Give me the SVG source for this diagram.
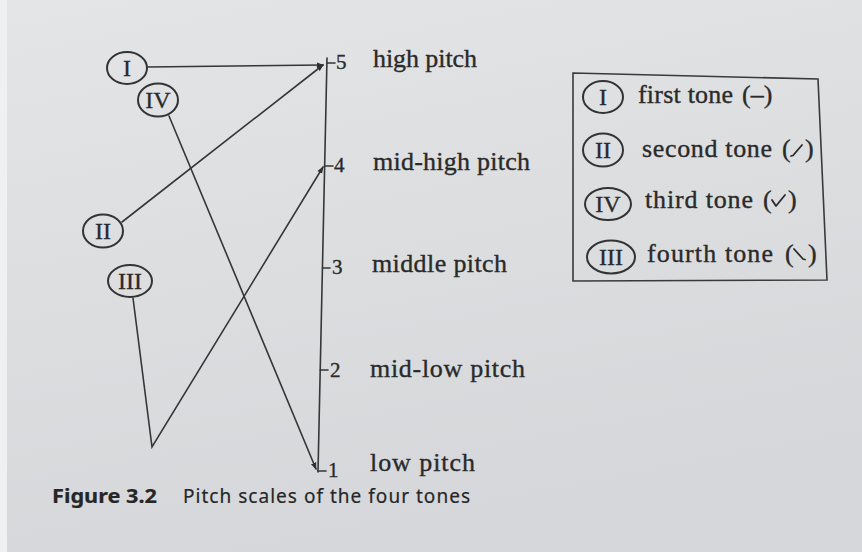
<svg xmlns="http://www.w3.org/2000/svg" width="862" height="552" viewBox="0 0 862 552">
  <defs>
    <linearGradient id="paper" x1="0" y1="0" x2="0.3" y2="1">
      <stop offset="0" stop-color="#e3e5e6"/>
      <stop offset="0.5" stop-color="#dcdee0"/>
      <stop offset="1" stop-color="#d5d7da"/>
    </linearGradient>
    <marker id="arrow" viewBox="0 0 10 10" refX="9" refY="5" markerWidth="7" markerHeight="7" markerUnits="userSpaceOnUse" orient="auto">
      <path d="M0,1 L10,5 L0,9 Z" fill="#2f2f2f"/>
    </marker>
    <style>
      .ln { fill: none; stroke: #363636; stroke-width: 1.6; stroke-linecap: round; stroke-linejoin: miter; }
      .node { fill: none; stroke: #333; stroke-width: 2; }
      .mark { fill: none; stroke: #2a2a2a; stroke-width: 1.8; stroke-linecap: round; stroke-linejoin: round; }
      text { stroke: #2a2a2a; stroke-width: 0.35; }
      .rom { font-family: "Liberation Serif", "Times New Roman", serif; font-size: 24px; fill: #2a2a2a; text-anchor: middle; stroke-width: 0.3; }
      .num { font-family: "Liberation Serif", "Times New Roman", serif; font-size: 21px; fill: #2a2a2a; }
      .lbl { font-family: "Liberation Serif", "Times New Roman", serif; font-size: 26px; fill: #2a2a2a; }
      .leg { font-family: "Liberation Serif", "Times New Roman", serif; font-size: 26px; fill: #2a2a2a; }
      .cap { font-family: "Noto Sans", "Open Sans", sans-serif; font-size: 19px; fill: #262626; stroke-width: 0.2; }
    </style>
  </defs>

  <rect x="0" y="0" width="862" height="552" fill="url(#paper)"/>
  <rect x="0" y="0" width="7" height="552" fill="#eef0f1"/>

  <!-- pitch scale -->
  <g id="scale">
    <path class="ln" d="M327,58 L318,472"/>
    <g id="level-5">
      <path class="ln" d="M326.8,63 L335,63"/>
      <text class="num" x="336" y="69">5</text>
      <text class="lbl" x="373" y="67" textLength="104" lengthAdjust="spacing">high pitch</text>
    </g>
    <g id="level-4">
      <path class="ln" d="M324.6,166 L333,166"/>
      <text class="num" x="334" y="172">4</text>
      <text class="lbl" x="373" y="170" textLength="157" lengthAdjust="spacing">mid-high pitch</text>
    </g>
    <g id="level-3">
      <path class="ln" d="M322.4,268 L330,268"/>
      <text class="num" x="332" y="274">3</text>
      <text class="lbl" x="372" y="272" textLength="135" lengthAdjust="spacing">middle pitch</text>
    </g>
    <g id="level-2">
      <path class="ln" d="M320.2,370 L328,370"/>
      <text class="num" x="330" y="377">2</text>
      <text class="lbl" x="370" y="377" textLength="155" lengthAdjust="spacing">mid-low pitch</text>
    </g>
    <g id="level-1">
      <path class="ln" d="M318,471 L326,471"/>
      <text class="num" x="328" y="477">1</text>
      <text class="lbl" x="370" y="471" textLength="105" lengthAdjust="spacing">low pitch</text>
    </g>
  </g>

  <!-- tone nodes -->
  <g id="node-I">
    <ellipse class="node" cx="127" cy="68" rx="20" ry="16"/>
    <text class="rom" x="127" y="76">I</text>
  </g>
  <g id="node-IV">
    <ellipse class="node" cx="158" cy="100" rx="20" ry="16.5"/>
    <text class="rom" x="158" y="108">IV</text>
  </g>
  <g id="node-II">
    <ellipse class="node" cx="103" cy="231" rx="20" ry="16.5"/>
    <text class="rom" x="103" y="239">II</text>
  </g>
  <g id="node-III">
    <ellipse class="node" cx="130" cy="281" rx="22" ry="16"/>
    <text class="rom" x="130" y="289">III</text>
  </g>

  <!-- connectors -->
  <g id="connectors">
    <path class="ln" d="M147,67 L323,65" marker-end="url(#arrow)"/>
    <path class="ln" d="M122,222 L323,65" marker-end="url(#arrow)"/>
    <path class="ln" d="M169,116 L316,469" marker-end="url(#arrow)"/>
    <path class="ln" d="M133,298 L152,447 L323,167" marker-end="url(#arrow)"/>
  </g>

  <!-- legend -->
  <g id="legend">
    <path d="M573,73 L818,79 L827,280 L573,281 Z" fill="none" stroke="#3a3a3a" stroke-width="1.6"/>
    <g id="legend-I">
      <ellipse class="node" cx="603" cy="97" rx="20" ry="16"/>
      <text class="rom" x="603" y="105">I</text>
      <text class="leg" x="638" y="103" textLength="95" lengthAdjust="spacing">first tone</text>
      <text class="leg" x="742" y="103">(–)</text>
    </g>
    <g id="legend-II">
      <ellipse class="node" cx="603" cy="150" rx="20" ry="16.5"/>
      <text class="rom" x="603" y="158">II</text>
      <text class="leg" x="642" y="157" textLength="130" lengthAdjust="spacing">second tone</text>
      <text class="leg" x="782" y="157">(</text>
      <path class="mark" d="M791,156 L793,155.5 L802,145"/>
      <text class="leg" x="805" y="157">)</text>
    </g>
    <g id="legend-IV">
      <ellipse class="node" cx="608" cy="204" rx="23" ry="16"/>
      <text class="rom" x="608" y="212">IV</text>
      <text class="leg" x="645" y="208" textLength="108" lengthAdjust="spacing">third tone</text>
      <text class="leg" x="763" y="208">(</text>
      <path class="mark" d="M772,200 L776,206 L785,195"/>
      <text class="leg" x="788" y="208">)</text>
    </g>
    <g id="legend-III">
      <ellipse class="node" cx="611" cy="257" rx="24" ry="16.5"/>
      <text class="rom" x="611" y="265">III</text>
      <text class="leg" x="647" y="262" textLength="126" lengthAdjust="spacing">fourth tone</text>
      <text class="leg" x="785" y="262">(</text>
      <path class="mark" d="M794,249 L803,259 L805,259.5"/>
      <text class="leg" x="808" y="262">)</text>
    </g>
  </g>

  <!-- caption -->
  <g id="caption">
    <text class="cap" x="52" y="503" font-weight="bold" textLength="105" lengthAdjust="spacingAndGlyphs">Figure 3.2</text>
    <text class="cap" x="183" y="503" textLength="287" lengthAdjust="spacing">Pitch scales of the four tones</text>
  </g>
</svg>
